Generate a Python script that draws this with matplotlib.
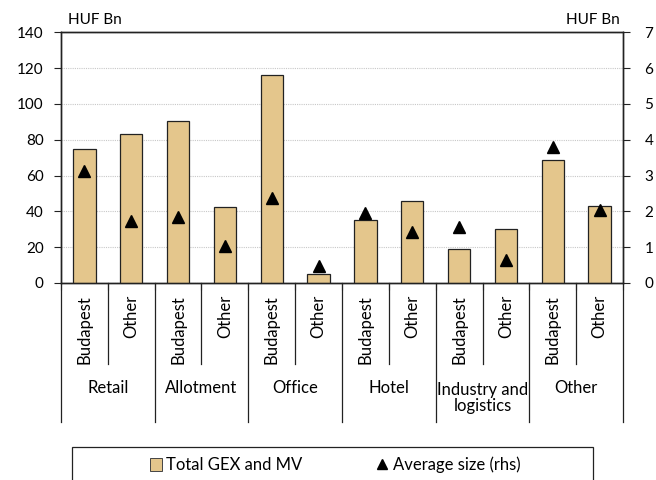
import matplotlib
matplotlib.use("Agg")
import matplotlib.pyplot as plt
from matplotlib.lines import Line2D
from matplotlib.patches import Rectangle, Patch
import numpy as np

plt.rcParams['font.family'] = ['Lato', 'DejaVu Sans']

groups = ["Retail", "Allotment", "Office", "Hotel", "Industry and\nlogistics", "Other"]
subs = ["Budapest", "Other"]
total_gex_mv = [75, 83, 90.5, 42.5, 116, 5.3, 35, 46, 18.8, 30.2, 68.5, 43]
avg_size = [3.12, 1.72, 1.84, 1.02, 2.36, 0.48, 1.95, 1.43, 1.55, 0.64, 3.80, 2.03]

bar_color = "#E4C68C"
fs_tick = 11
fs_cat = 12
fs_leg = 12

fig = plt.figure(figsize=(6.56, 4.8), dpi=100)
L, R, B, T = 61/656, 623/656, 1-283/480, 1-32.2/480
ax = fig.add_axes([L, B, R-L, T-B])
n = len(total_gex_mv)
x = np.arange(n)
ax.bar(x, total_gex_mv, width=0.48, color=bar_color, edgecolor="#222222", linewidth=0.9, zorder=3)
ax.set_xlim(-0.5, n-0.5)
ax.set_ylim(0, 140)
ax.set_yticks(range(0, 141, 20))
ax.yaxis.grid(True, linestyle=(0, (1, 1)), color="#c8c8c8", linewidth=0.8, zorder=0)
ax.set_axisbelow(True)
ax.set_xticks(np.arange(-0.5, n, 1))
ax.set_xticklabels([])
ax.tick_params(axis='x', length=5, direction='out', color="#222222")
ax.tick_params(axis='y', length=5, direction='out', labelsize=fs_tick, color="#222222", pad=7.5)
for s in ax.spines.values():
    s.set_color("#222222")
    s.set_linewidth(1.0)

ax2 = ax.twinx()
ax2.set_ylim(0, 7)
ax2.set_yticks(range(0, 8))
ax2.plot(x, avg_size, linestyle='none', marker='^', markersize=9, color='black', zorder=5)
ax2.tick_params(axis='y', length=5, direction='out', labelsize=fs_tick, color="#222222", pad=10.5)
for s in ax2.spines.values():
    s.set_color("#222222")
    s.set_linewidth(1.0)

# category labels
ax_h_px = 283 - 32.2
def ay(py):
    return (283 - py) / ax_h_px
for i in range(n):
    ax.text(i, ay(295), subs[i % 2], rotation=90, ha='center', va='top',
            fontsize=fs_cat, transform=ax.get_xaxis_transform())
for g, name in enumerate(groups):
    cx = 2*g + 0.5
    if "\n" in name:
        ax.text(cx, ay(398), name, ha='center', va='center', fontsize=fs_cat,
                transform=ax.get_xaxis_transform(), linespacing=1.05)
    else:
        ax.text(cx, ay(388), name, ha='center', va='center', fontsize=fs_cat,
                transform=ax.get_xaxis_transform())
# separators
for k in range(n+1):
    xb = k - 0.5
    y_end = ay(422) if k % 2 == 0 else ay(364)
    ax.add_line(Line2D([xb, xb], [0, y_end], color="#222222", linewidth=0.9,
                       transform=ax.get_xaxis_transform(), clip_on=False))

fig.text(68/656, 1-20/480, "HUF Bn", fontsize=fs_tick, ha='left', va='center')
fig.text(620/656, 1-20/480, "HUF Bn", fontsize=fs_tick, ha='right', va='center')

# legend box
fig.patches.append(Rectangle((72/656, -0.01), (593-72)/656, (480-447)/480 + 0.01,
                             transform=fig.transFigure, fill=False, edgecolor="#222222",
                             linewidth=0.9))
handles = [Patch(facecolor=bar_color, edgecolor="#444444", linewidth=0.7),
           Line2D([], [], linestyle='none', marker='^', color='black', markersize=7)]
fig.legend(handles, ["Total GEX and MV", "Average size (rhs)"], loc='center',
           bbox_to_anchor=(335/656, 1-465/480), ncol=2, frameon=False, fontsize=fs_leg,
           handlelength=0.75, handleheight=0.75, handletextpad=0.25, columnspacing=4.4)

fig.savefig("out.png", dpi=100)
